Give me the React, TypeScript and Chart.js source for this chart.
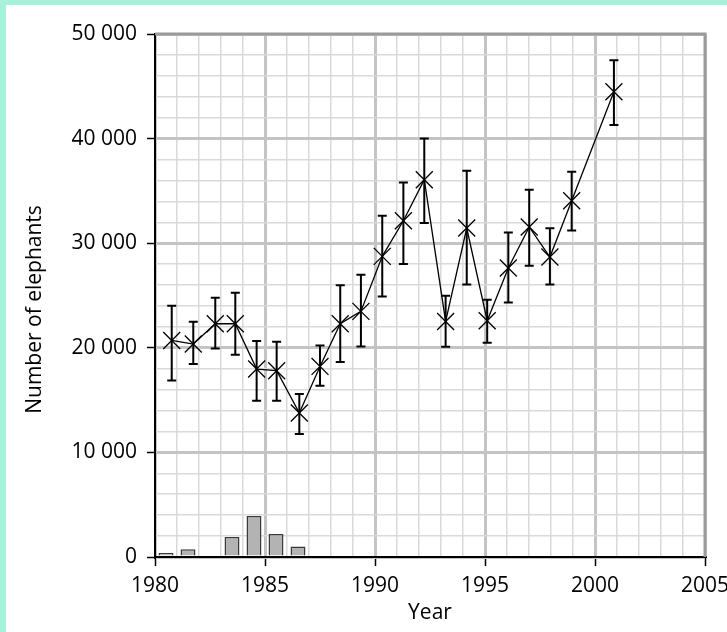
import React, { useEffect, useRef } from 'react';
import { Chart, registerables } from 'chart.js';

Chart.register(...registerables);

// Survey estimates (year of survey, number of elephants, error range)
const surveyYears = [1980.76, 1981.74, 1982.74, 1983.65, 1984.62, 1985.53, 1986.56, 1987.5, 1988.42, 1989.36, 1990.33, 1991.29, 1992.24, 1993.21, 1994.17, 1995.1, 1996.06, 1997.01, 1997.95, 1998.94, 2000.86];
const elephants = [20700, 20360, 22300, 22300, 17970, 17810, 13770, 18220, 22300, 23480, 28740, 32150, 36070, 22520, 31450, 22590, 27630, 31550, 28680, 34060, 44480];
const errLow = [16880, 18450, 19940, 19340, 14940, 14940, 11760, 16380, 18640, 20130, 24910, 28010, 31930, 20110, 26060, 20490, 24340, 27850, 26060, 31220, 41300];
const errHigh = [24030, 22500, 24790, 25270, 20650, 20580, 15580, 20230, 25970, 26990, 32630, 35810, 40020, 24980, 36930, 24600, 31030, 35120, 31420, 36840, 47480];

// Bars (annual counts)
const barYears = [1980.5, 1981.5, 1983.5, 1984.5, 1985.5, 1986.5];
const barValues = [380, 730, 1910, 3920, 2200, 1010];

// Tick labels
const xLabelYears = [1980, 1985, 1990, 1995, 2000, 2005];
const yLabelValues = [0, 10000, 20000, 30000, 40000, 50000];

const FONT = "'Open Sans', sans-serif";
const MAJOR = '#c4c4c4';
const MINOR = '#d9d9d9';

const fmt = (v: number) => (v === 0 ? '0' : `${Math.round(v / 1000)} 000`);

const extrasPlugin = {
  id: 'extras',
  beforeDatasetsDraw(chart: any) {
    const { ctx, chartArea: a } = chart;
    ctx.save();
    ctx.strokeStyle = '#9a9a9a';
    ctx.lineWidth = 3;
    ctx.beginPath();
    ctx.moveTo(a.left, a.top);
    ctx.lineTo(a.right, a.top);
    ctx.lineTo(a.right, a.bottom);
    ctx.stroke();
    ctx.restore();
  },
  afterDatasetsDraw(chart: any) {
    const { ctx } = chart;
    const xs = chart.scales.x;
    const ys = chart.scales.y;
    ctx.save();
    ctx.strokeStyle = '#000';
    ctx.lineWidth = 2;
    for (let i = 0; i < surveyYears.length; i++) {
      const x = xs.getPixelForValue(surveyYears[i]);
      const yt = ys.getPixelForValue(errHigh[i]);
      const yb = ys.getPixelForValue(errLow[i]);
      ctx.beginPath();
      ctx.moveTo(x, yt);
      ctx.lineTo(x, yb);
      ctx.moveTo(x - 4.5, yt);
      ctx.lineTo(x + 4.5, yt);
      ctx.moveTo(x - 4.5, yb);
      ctx.lineTo(x + 4.5, yb);
      ctx.stroke();
    }
    ctx.restore();
  },
  afterDraw(chart: any) {
    const { ctx, chartArea: a } = chart;
    ctx.save();
    ctx.fillStyle = '#000';
    ctx.font = `21px ${FONT}`;
    ctx.textAlign = 'center';
    ctx.textBaseline = 'middle';
    ctx.fillText('Year', (a.left + a.right) / 2, 613);
    ctx.translate(35, (a.top + a.bottom) / 2 + 14);
    ctx.rotate(-Math.PI / 2);
    ctx.fillText('Number of elephants', 0, 0);
    ctx.restore();
  },
};

export default function App() {
  const ref = useRef<HTMLCanvasElement | null>(null);

  useEffect(() => {
    if (!ref.current) return;
    const chart = new Chart(ref.current, {
      type: 'line',
      data: {
        datasets: [
          {
            type: 'line',
            data: surveyYears.map((x, i) => ({ x, y: elephants[i] })),
            borderColor: '#000',
            borderWidth: 1.3,
            pointStyle: 'crossRot',
            pointRadius: 12,
            pointBorderWidth: 1.3,
            pointBorderColor: '#000',
            pointBackgroundColor: '#000',
            tension: 0,
            fill: false,
            order: 0,
          },
          {
            type: 'bar',
            data: barYears.map((x, i) => ({ x, y: barValues[i] })),
            backgroundColor: '#b3b3b3',
            borderColor: '#3a3a3a',
            borderWidth: 1.5,
            barPercentage: 0.68,
            categoryPercentage: 1,
            order: 1,
          } as any,
        ],
      },
      options: {
        responsive: false,
        animation: false,
        layout: { padding: { left: 0, top: 34, right: 22, bottom: 0 } },
        plugins: { legend: { display: false }, tooltip: { enabled: false }, title: { display: false } },
        scales: {
          x: {
            type: 'linear',
            min: 1980,
            max: 2005,
            offset: false,
            afterFit: (s: any) => {
              s.height = 75;
              s.paddingRight = 0;
            },
            ticks: {
              stepSize: 1,
              autoSkip: false,
              maxRotation: 0,
              padding: 7,
              color: '#000',
              font: { family: FONT, size: 21 },
              callback: (v: any) => (xLabelYears.includes(Number(v)) ? String(v) : ''),
            },
            grid: {
              offset: false,
              color: (c: any) => (c.tick && xLabelYears.includes(c.tick.value) ? MAJOR : MINOR),
              lineWidth: (c: any) => (c.tick && xLabelYears.includes(c.tick.value) ? 3 : 1.5),
              tickColor: (c: any) => (c.tick && xLabelYears.includes(c.tick.value) ? '#000' : 'rgba(0,0,0,0)'),
              tickWidth: 1.5,
              tickLength: 9,
            },
            border: { display: true, color: '#000', width: 2 },
          },
          y: {
            type: 'linear',
            min: 0,
            max: 50000,
            afterFit: (s: any) => {
              s.width = 155;
            },
            ticks: {
              stepSize: 2000,
              autoSkip: false,
              padding: 10,
              color: '#000',
              font: { family: FONT, size: 21 },
              callback: (v: any) => (yLabelValues.includes(Number(v)) ? fmt(Number(v)) : ''),
            },
            grid: {
              color: (c: any) => (c.tick && yLabelValues.includes(c.tick.value) ? MAJOR : MINOR),
              lineWidth: (c: any) => (c.tick && yLabelValues.includes(c.tick.value) ? 3 : 1.5),
              tickColor: (c: any) => (c.tick && yLabelValues.includes(c.tick.value) ? '#000' : 'rgba(0,0,0,0)'),
              tickWidth: 1.5,
              tickLength: 8,
            },
            border: { display: true, color: '#000', width: 2 },
          },
        },
      },
      plugins: [extrasPlugin],
    } as any);
    return () => chart.destroy();
  }, []);

  return (
    <div style={{ position: 'fixed', left: 0, top: 0, width: 727, height: 632, background: '#fff', overflow: 'hidden' }}>
      <div style={{ position: 'absolute', left: 0, top: 0, width: 727, height: 5, background: '#a9efd9' }} />
      <div style={{ position: 'absolute', left: 0, top: 0, width: 6, height: 632, background: '#a9efd9' }} />
      <canvas ref={ref} width={727} height={632} style={{ position: 'absolute', left: 0, top: 0 }} />
    </div>
  );
}
